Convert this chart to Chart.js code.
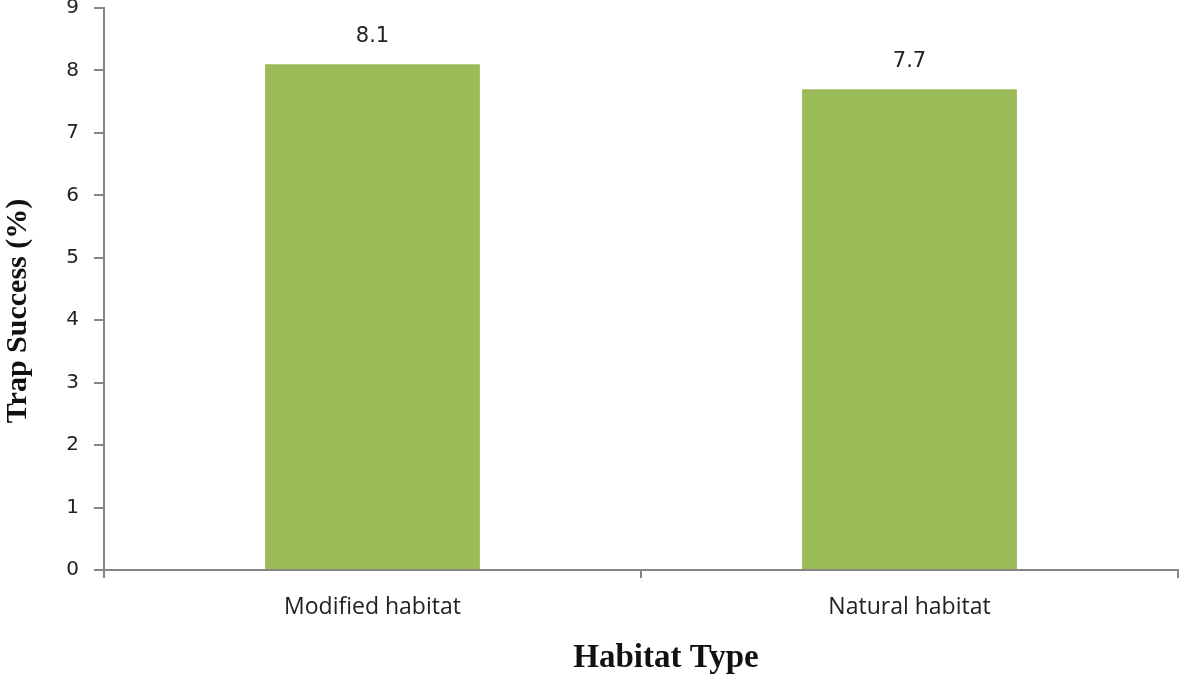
<!DOCTYPE html>
<html>
<head>
<meta charset="utf-8">
<script src="https://cdn.jsdelivr.net/npm/chart.js@4.4.1/dist/chart.umd.min.js"></script>
<style>
  html, body { margin: 0; padding: 0; background: #fff; }
  #wrap { width: 1181px; height: 678px; }
</style>
</head>
<body>
<div id="wrap"><canvas id="trapChart" width="1181" height="678"></canvas></div>
<script>
const habitats = ["Modified habitat", "Natural habitat"];
const trapSuccess = [8.1, 7.7];
const yTicks = [0, 1, 2, 3, 4, 5, 6, 7, 8, 9];
const xTitle = "Habitat Type";
const yTitle = "Trap Success (%)";

// value labels above the bars and the two axis titles
const barValues = {
  id: 'barValues',
  afterDatasetsDraw(chart) {
    const ctx = chart.ctx;
    ctx.save();
    ctx.font = '21px "DejaVu Sans"';
    ctx.fillStyle = '#222';
    ctx.textAlign = 'center';
    ctx.textBaseline = 'bottom';
    chart.getDatasetMeta(0).data.forEach((bar, i) => {
      ctx.fillText(trapSuccess[i].toFixed(1), bar.x, bar.y - 17);
    });
    ctx.restore();
  },
  afterDraw(chart) {
    const ctx = chart.ctx;
    const area = chart.chartArea;
    ctx.save();
    ctx.fillStyle = '#111';
    ctx.textAlign = 'center';
    ctx.textBaseline = 'middle';
    ctx.font = 'bold 33px "Liberation Serif"';
    ctx.fillText(xTitle, (area.left + area.right) / 2 + 25, 658);
    ctx.translate(18, (area.top + area.bottom) / 2 + 22);
    ctx.rotate(-Math.PI / 2);
    ctx.font = 'bold 30px "Liberation Serif"';
    ctx.fillText(yTitle, 0, 0);
    ctx.restore();
  }
};

new Chart(document.getElementById("trapChart"), {
  type: 'bar',
  data: {
    labels: habitats,
    datasets: [{
      data: trapSuccess,
      backgroundColor: "#9BBB59",
      categoryPercentage: 1,
      barPercentage: 0.4
    }]
  },
  options: {
    responsive: false,
    animation: false,
    layout: { padding: { top: 8, right: 3, left: 0, bottom: 0 } },
    plugins: {
      legend: { display: false },
      tooltip: { enabled: false }
    },
    scales: {
      x: {
        afterFit(scale) { scale.height = 108; scale.paddingLeft = 0; scale.paddingRight = 0; },
        border: { color: '#868686', width: 2 },
        grid: { drawOnChartArea: false, drawTicks: true, tickLength: 8, color: '#868686', lineWidth: 2, offset: true },
        ticks: { color: '#222', font: { family: 'Open Sans', size: 23 }, padding: 16 }
      },
      y: {
        min: 0,
        max: 9,
        afterFit(scale) { scale.width = 104; scale.paddingTop = 0; scale.paddingBottom = 0; },
        afterBuildTicks(scale) { scale.ticks = yTicks.map(v => ({ value: v })); },
        border: { color: '#868686', width: 2 },
        grid: { drawOnChartArea: false, drawTicks: true, tickLength: 10, color: '#868686', lineWidth: 2 },
        ticks: { color: '#222', font: { family: 'DejaVu Sans', size: 20 }, padding: 15 }
      }
    }
  },
  plugins: [barValues]
});
</script>
</body>
</html>
